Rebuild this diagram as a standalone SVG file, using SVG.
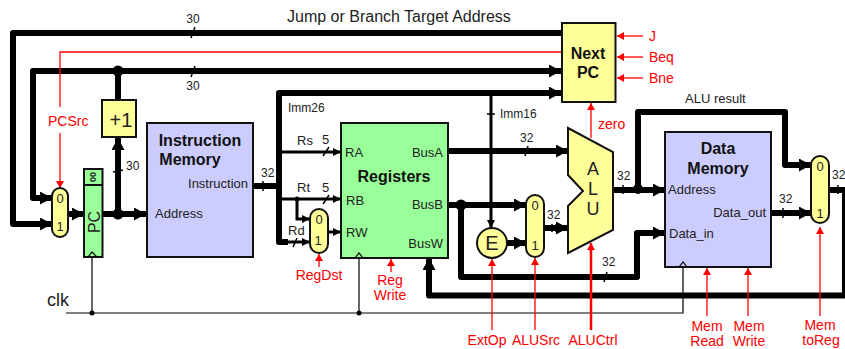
<svg xmlns="http://www.w3.org/2000/svg" width="845" height="349" viewBox="0 0 845 349">
<defs>
<marker id="ah" markerUnits="userSpaceOnUse" markerWidth="14" markerHeight="14" refX="12" refY="6.500" orient="auto"><path d="M0 0L12 6.500L0 13Z" fill="#000"/></marker>
<marker id="ahs" markerUnits="userSpaceOnUse" markerWidth="10" markerHeight="10" refX="8" refY="4" orient="auto"><path d="M0 0L8 4L0 8Z" fill="#000"/></marker>
<marker id="ar" markerUnits="userSpaceOnUse" markerWidth="10" markerHeight="10" refX="7" refY="4" orient="auto"><path d="M0 0L7 4L0 8Z" fill="#f00"/></marker>
</defs>
<style>
text{font-family:"Liberation Sans",Arial,sans-serif;font-size:13px;fill:#222}
.b{font-weight:bold;font-size:16px;fill:#111}
.s{font-size:12px}
.r{fill:#f00;font-size:14px}
.m{text-anchor:middle}
.e{text-anchor:end}
.w{fill:none;stroke:#000;stroke-width:6;stroke-linejoin:round}
.t{fill:none;stroke:#000;stroke-width:3}
.n{fill:none;stroke:#000;stroke-width:1.2}
.tk{fill:none;stroke:#000;stroke-width:1.5}
.red{fill:none;stroke:#f00;stroke-width:1.3}
.red2{fill:none;stroke:#f00;stroke-width:2.5}
.box{stroke:#111;stroke-width:2}
.y{fill:#ffff99}.g{fill:#99ff99}.p{fill:#ccccff}
</style>
<g id="connectors">
<path class="w" d="M562 33H13V224H52" marker-end="url(#ah)"/>
<path class="w" d="M52 198H33V71H561" style="marker-end:url(#ah)"/>
<path class="w" d="M33 198H52" marker-end="url(#ah)"/>
<path class="red" d="M562 52H60V107M60 133V188" marker-end="url(#ar)"/>
<path class="w" d="M118 71V100"/>
<path class="w" d="M118 214V138" marker-end="url(#ah)"/>
<path class="w" d="M68 214H84" marker-end="url(#ah)"/>
<path class="w" d="M102 214H146" marker-end="url(#ah)"/>
<circle cx="118" cy="71" r="5.500"/><circle cx="118" cy="214" r="5.500"/>
<path class="w" d="M253 186H279"/>
<path class="w" d="M288 242H279V93H561" marker-end="url(#ah)"/>
<path class="t" d="M288 242H310" marker-end="url(#ahs)"/>
<path class="t" d="M279 152H341" marker-end="url(#ahs)"/>
<path class="t" d="M279 199H341" marker-end="url(#ahs)"/>
<path class="t" d="M297 199V219H310" marker-end="url(#ahs)"/>
<circle cx="297" cy="199" r="2.500"/>
<path class="t" d="M328 232H341" marker-end="url(#ahs)"/>
<path class="w" d="M448 151H568" marker-end="url(#ah)"/>
<path class="w" d="M448 205H526" marker-end="url(#ah)"/>
<circle cx="461" cy="205" r="5.500"/>
<path class="w" d="M461 205V277H637V233H665" marker-end="url(#ah)"/>
<path class="t" d="M491 93V228" marker-end="url(#ahs)"/>
<path class="w" d="M507 243H526" marker-end="url(#ah)"/>
<path class="w" d="M544 228H568" marker-end="url(#ah)"/>
<path class="w" d="M845 295.500H429V258" marker-end="url(#ah)"/>
<path class="w" d="M612 190H665" marker-end="url(#ah)"/>
<circle cx="638" cy="189" r="5"/>
<path class="w" d="M638 189V112H785V165H811" marker-end="url(#ah)"/>
<path class="w" d="M771 213H811" marker-end="url(#ah)"/>
<path class="w" d="M829 190H845V295"/>
<path class="n" d="M66 313H683V265"/>
<path class="n" d="M92 313V258"/>
<path class="n" d="M359 313V255"/>
<circle cx="92" cy="313" r="2.500"/><circle cx="359" cy="313" r="2.500"/>
<path class="tk" d="M195 27L191 38M195 66L191 77M113 172L123 170M329 147L323 156M329 195L323 204M297 238L293 247"/>
<path class="tk" d="M528 146L525 156M495 114H487M263 181V191M552 224V232M556 224V232M623 185V194M607 272L604 282M700 207V216M783 208V218M838 185V194"/>
</g>
<g id="pc-mux"><rect class="y box" x="52" y="188" width="16" height="49" rx="8"/><text class="m" x="60" y="203">0</text><text class="m" x="60" y="231">1</text></g>
<g id="pc"><rect class="g box" x="84" y="169" width="18.500" height="88"/><path class="box" fill="none" d="M84 185H102"/><path class="n" d="M88 257L92 252L97 257"/><text class="m" transform="translate(100 222) rotate(-90)" style="font-size:16px">PC</text><text class="m" transform="translate(96 177) rotate(-90)" style="font-size:9px;font-weight:bold">00</text></g>
<g id="inc"><rect class="y box" x="102" y="100" width="34" height="37"/><text class="m" x="121" y="127" style="font-size:20px">+1</text></g>
<g id="imem"><rect class="p box" x="147" y="123" width="106" height="134"/><text class="b m" x="200" y="146">Instruction</text><text class="b m" x="190" y="165">Memory</text><text class="e" x="248" y="188">Instruction</text><text x="155" y="218">Address</text></g>
<g id="registers"><rect class="g box" x="341" y="123" width="107" height="135"/><text class="b m" x="394" y="182">Registers</text><text x="345" y="157">RA</text><text x="346" y="205">RB</text><text x="346" y="237">RW</text><text class="e" x="443" y="157">BusA</text><text class="e" x="443" y="209">BusB</text><text class="e" x="443" y="248">BusW</text><path class="n" d="M355 258L359 253L363 258"/></g>
<g id="reg-mux"><rect class="y box" x="310" y="209" width="18" height="44" rx="9"/><text class="m" x="319" y="224">0</text><text class="m" x="318" y="245">1</text></g>
<g id="ext"><circle class="y box" cx="492" cy="243" r="15"/><text class="m" x="492" y="250" style="font-size:20px">E</text></g>
<g id="alu-mux"><rect class="y box" x="526" y="195" width="18" height="62" rx="9"/><text class="m" x="535" y="210">0</text><text class="m" x="535" y="250">1</text></g>
<g id="alu"><path class="y box" d="M568 128L613 152V230L568 253V206L583 191L568 175Z"/><text class="m" style="font-size:18px"><tspan x="593" y="175">A</tspan><tspan x="593" y="195.200">L</tspan><tspan x="593" y="215.400">U</tspan></text></g>
<g id="next-pc"><rect class="y box" x="562" y="23" width="53.500" height="79"/><text class="b m" x="588" y="59">Next</text><text class="b m" x="588" y="78">PC</text></g>
<g id="dmem"><rect class="p box" x="665" y="132" width="106" height="135"/><text class="b m" x="718" y="154">Data</text><text class="b m" x="718" y="174">Memory</text><text x="668" y="194">Address</text><text class="e" x="766" y="217">Data_out</text><text x="669" y="238">Data_in</text><path class="n" d="M679 267L683 262L687 267"/></g>
<g id="wb-mux"><rect class="y box" x="811" y="156" width="18" height="67" rx="9"/><text class="m" x="820" y="171">0</text><text class="m" x="820" y="218">1</text></g>
<g id="control">
<path class="red" d="M643 36H617" marker-end="url(#ar)"/><path class="red" d="M643 57H617" marker-end="url(#ar)"/><path class="red" d="M643 78H617" marker-end="url(#ar)"/>
<path class="red" d="M591 138V103" marker-end="url(#ar)"/>
<path class="red" d="M319 267V254" marker-end="url(#ar)"/><path class="red" d="M391 272V259" marker-end="url(#ar)"/>
<path class="red" d="M492 330V259" marker-end="url(#ar)"/><path class="red" d="M535 330V258" marker-end="url(#ar)"/>
<path class="red2" d="M591 330V243" marker-end="url(#ar)"/>
<path class="red" d="M707 316V268" marker-end="url(#ar)"/><path class="red" d="M748 316V268" marker-end="url(#ar)"/><path class="red" d="M820 316V227" marker-end="url(#ar)"/>
</g>
<g id="labels">
<text class="s m" x="193" y="23">30</text><text class="s m" x="193" y="90">30</text><text class="s" x="126" y="170">30</text><text x="287" y="22" style="font-size:16px">Jump or Branch Target Address</text>
<text class="r" x="48" y="126">PCSrc</text><text class="r" x="649" y="41">J</text><text class="r" x="649" y="62">Beq</text><text class="r" x="649" y="83">Bne</text><text class="r" x="598" y="129">zero</text>
<text class="s" x="261" y="177">32</text><text class="s" x="288" y="112">Imm26</text><text x="297" y="145">Rs</text><text x="322" y="144">5</text><text x="297" y="192">Rt</text><text x="322" y="192">5</text><text x="288" y="235">Rd</text>
<text class="s" x="500" y="118">Imm16</text><text class="s" x="520" y="142">32</text><text class="s" x="547" y="219">32</text><text class="s" x="602" y="266">32</text><text class="s" x="617" y="180">32</text><text x="685" y="103">ALU result</text><text class="s" x="779" y="203">32</text><text class="s" x="832" y="179">32</text>
<text x="47" y="306" style="font-size:18px">clk</text>
<text class="r m" x="319" y="280">RegDst</text><text class="r m" x="390" y="285">Reg</text><text class="r m" x="390" y="300">Write</text><text class="r m" x="487" y="345">ExtOp</text><text class="r m" x="536" y="345">ALUSrc</text><text class="r m" x="593" y="345">ALUCtrl</text><text class="r m" x="707" y="331">Mem</text><text class="r m" x="707" y="346">Read</text><text class="r m" x="749" y="331">Mem</text><text class="r m" x="749" y="346">Write</text><text class="r m" x="820" y="330">Mem</text><text class="r m" x="821" y="345">toReg</text>
</g>
</svg>
